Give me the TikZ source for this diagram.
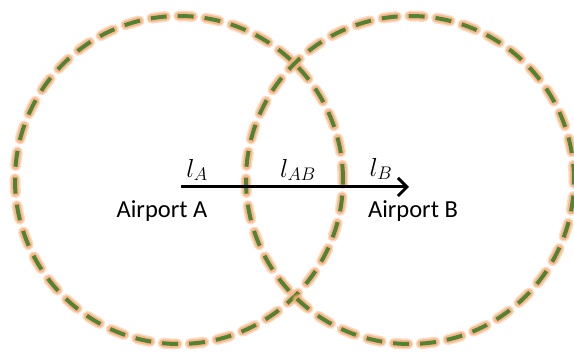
\RequirePackage{fix-cm}
\documentclass[tikz,border=0pt]{standalone}
\usepackage{fontspec}
\setmainfont{Carlito}
\usetikzlibrary{arrows.meta}
\definecolor{zonegreen}{RGB}{84,130,53}
\definecolor{zoneglow}{RGB}{246,170,115}

\begin{document}
\begin{tikzpicture}[x=1pt, y=-1pt,
  every node/.style={font=\fontsize{24.5}{28}\selectfont},
  glow/.style={draw=zoneglow, line cap=round, dash pattern=on 14pt off 13pt,
               dash phase=26pt},
  zone/.style={circle, minimum size=328pt, inner sep=0pt,
               draw=zonegreen, line width=4pt, dash pattern=on 16pt off 11pt,
               preaction={glow, line width=11pt, opacity=0.4},
               preaction={glow, line width=8pt, opacity=0.7}},
  label/.style={inner sep=1pt, font=\fontsize{26}{30}\selectfont},
  route/.style={draw, line width=3pt, -{Straight Barb[length=9pt, width=18pt]}}]

\useasboundingbox (0,0) rectangle (574,352);

% coverage zones of the two airports
\node[zone] (zoneA) at (179,180) {};
\node[zone] (zoneB) at (410,180) {};

% route from A to B
\coordinate (startA) at (181,187);
\coordinate (endB) at (409,187);
\draw[route] (startA) -- (endB);

\node[label] (lA) at (197,170) {$l_A$};
\node[label] (lAB) at (298,170) {$l_{AB}$};
\node[label] (lB) at (381,169) {$l_B$};

\node (airA) at (162,211) {Airport A};
\node (airB) at (413,211) {Airport B};
\end{tikzpicture}
\end{document}
